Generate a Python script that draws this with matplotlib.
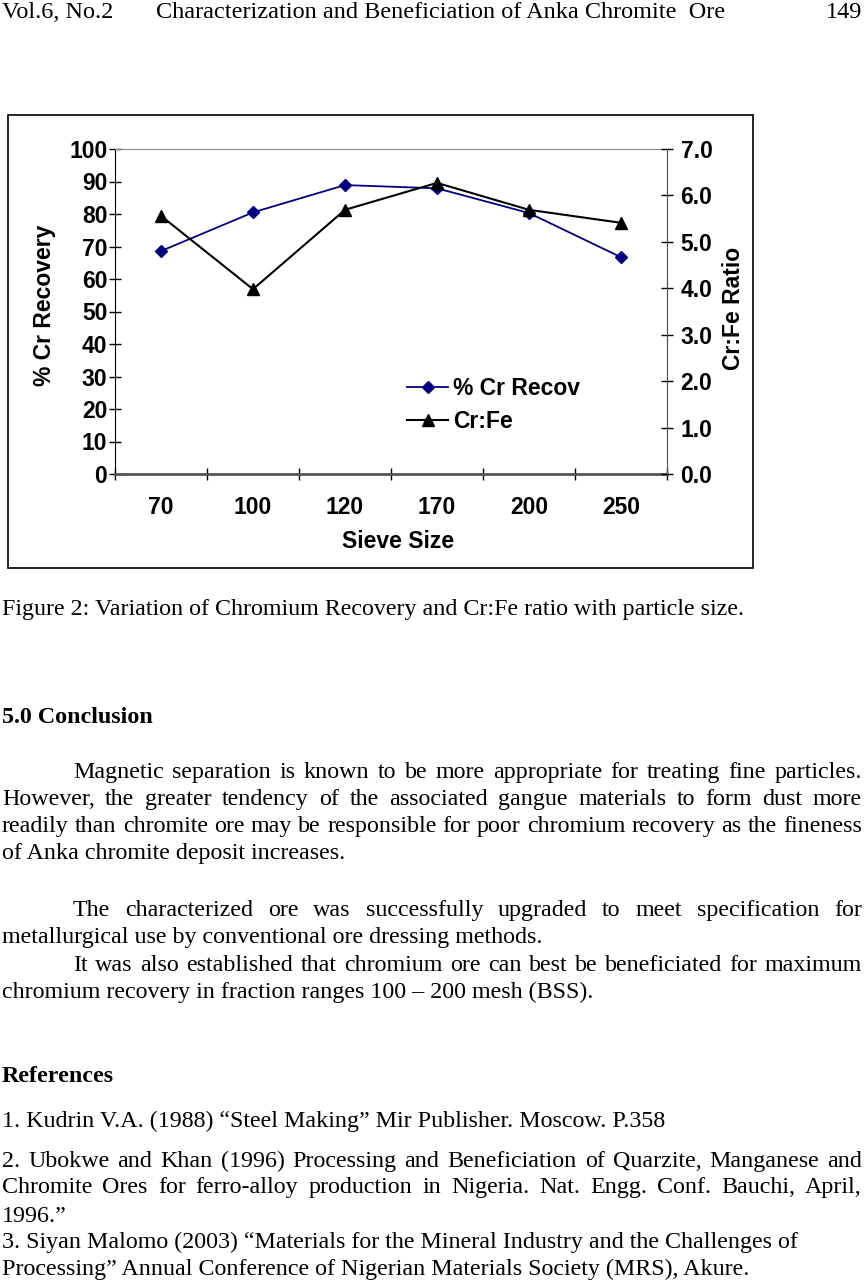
import matplotlib
matplotlib.use('Agg')
import matplotlib.pyplot as plt
from matplotlib.patches import Rectangle

W, H = 866, 1284

# chart data
sieve = ['70', '100', '120', '170', '200', '250']
cr_recovery = [68.6, 80.5, 88.9, 87.9, 80.3, 66.7]
cr_fe = [5.56, 3.98, 5.69, 6.27, 5.69, 5.41]
left_ticks = list(range(0, 101, 10))
right_ticks = [0, 1, 2, 3, 4, 5, 6, 7]

# page text
header_left = 'Vol.6, No.2'
header_title = 'Characterization and Beneficiation of Anka Chromite  Ore'
header_page = '149'
caption = 'Figure 2: Variation of Chromium Recovery and Cr:Fe ratio with particle size.'
para1 = ['Magnetic separation is known to be more appropriate for treating fine particles.',
         'However, the greater tendency of the associated gangue materials to form dust more',
         'readily than chromite ore may be responsible for poor chromium recovery as the fineness',
         'of Anka chromite deposit increases.']
para2 = ['The characterized ore was successfully upgraded to meet specification for',
         'metallurgical use by conventional ore dressing methods.',
         'It was also established that chromium ore can best be beneficiated for maximum',
         'chromium recovery in fraction ranges 100 \u2013 200 mesh (BSS).']
refs = ['1. Kudrin V.A. (1988) \u201cSteel Making\u201d Mir Publisher. Moscow. P.358',
        '2. Ubokwe and Khan (1996) Processing and Beneficiation of Quarzite, Manganese and',
        'Chromite Ores for ferro-alloy production in Nigeria. Nat. Engg. Conf. Bauchi, April,',
        '1996.\u201d',
        '3. Siyan Malomo (2003) \u201cMaterials for the Mineral Industry and the Challenges of',
        'Processing\u201d Annual Conference of Nigerian Materials Society (MRS), Akure.']


def fx(x):
    return x / W


def fy(y):
    return 1 - y / H


fig = plt.figure(figsize=(W / 100, H / 100), dpi=100)
fig.patch.set_facecolor('white')

cfont = dict(family='Liberation Sans', fontweight='bold', fontsize=16.5)

# frame round the chart
fig.patches.append(Rectangle((fx(8), fy(568)), fx(753) - fx(8), fy(115) - fy(568),
                             transform=fig.transFigure, fill=False, edgecolor='black', lw=1.2))

ax = fig.add_axes([fx(115), fy(474), fx(667) - fx(115), fy(149) - fy(474)])
xs = list(range(len(sieve)))
l1, = ax.plot(xs, cr_recovery, color='#000080', marker='D', ms=6.5, lw=1.3, label='% Cr Recov')
ax.set_xlim(-0.5, len(sieve) - 0.5)
ax.set_ylim(0, 100)
ax.set_yticks(left_ticks)
ax.set_yticklabels([str(v) for v in left_ticks], **cfont)
ax.set_xticks([i - 0.5 for i in range(len(sieve) + 1)])
ax.set_xticklabels([])
ax.set_xticks(xs, minor=True)
ax.set_xticklabels(sieve, minor=True, **cfont)
ax.tick_params(axis='y', direction='inout', length=8.6, width=1, pad=1.2)
ax.tick_params(axis='x', which='major', direction='inout', length=9, width=1)
ax.tick_params(axis='x', which='minor', length=0, pad=15.5)
ax.spines['left'].set_color('black')
ax.spines['bottom'].set_color('#555555')
ax.spines['bottom'].set_linewidth(2)
ax.spines['top'].set_color('#888888')
ax.spines['right'].set_color('#555555')

ax2 = ax.twinx()
l2, = ax2.plot(xs, cr_fe, color='black', marker='^', ms=8, lw=1.5, label='Cr:Fe')
ax2.set_ylim(0, 7)
ax2.set_yticks(right_ticks)
ax2.set_yticklabels(['%.1f' % v for v in right_ticks], **cfont)
ax2.tick_params(axis='y', direction='inout', length=8.6, width=1, pad=5.5)
for s in ['left', 'top', 'bottom']:
    ax2.spines[s].set_visible(False)
ax2.spines['right'].set_color('#555555')

ax2.legend(handles=[l1, l2], loc='upper left', bbox_to_anchor=(fx(407), fy(377)),
           bbox_transform=fig.transFigure, frameon=False, borderpad=0, borderaxespad=0,
           handlelength=1.8, handletextpad=0.2, labelspacing=0.45,
           prop=dict(family='Liberation Sans', weight='bold', size=16.5))

fig.text(fx(45), fy(305), '% Cr Recovery', rotation=90, ha='center', va='center', **cfont)
fig.text(fx(733), fy(308), 'Cr:Fe Ratio', rotation=90, ha='center', va='center', **cfont)
fig.text(fx(398), fy(542), 'Sieve Size', ha='center', va='center', **cfont)

# page text
body = dict(family='Liberation Serif', fontsize=17.3)
bold = dict(family='Liberation Serif', fontsize=17.3, fontweight='bold')
head = dict(family='Liberation Serif', fontsize=17.5)

renderer = fig.canvas.get_renderer()


def word_width(w, style):
    t = fig.text(0, 0, w, **style)
    wd = t.get_window_extent(renderer).width
    t.remove()
    return wd


def put(x, y, s, style, ha='left'):
    fig.text(fx(x), fy(y), s, ha=ha, va='baseline', **style)


def justify(x0, x1, y, line, style):
    words = line.split()
    widths = [word_width(w, style) for w in words]
    gap = (x1 - x0 - sum(widths)) / (len(words) - 1)
    x = x0
    for w, wd in zip(words, widths):
        put(x, y, w, style)
        x += wd + gap


put(2, 18, header_left, head)
put(441, 18, header_title, head, ha='center')
put(862, 18, header_page, head, ha='right')

put(2, 615, caption, body)
put(2, 723, '5.0 Conclusion', bold)

justify(73, 862, 778, para1[0], body)
justify(2, 862, 805, para1[1], body)
justify(2, 862, 832, para1[2], body)
put(2, 859, para1[3], body)

justify(73, 862, 916, para2[0], body)
put(2, 943, para2[1], body)
justify(73, 862, 971, para2[2], body)
put(2, 998, para2[3], body)

put(2, 1082, 'References', bold)
put(2, 1127, refs[0], body)
justify(2, 862, 1167, refs[1], body)
justify(2, 862, 1193, refs[2], body)
put(2, 1222, refs[3], body)
put(2, 1248, refs[4], body)
put(2, 1275, refs[5], body)

fig.savefig('out.png', dpi=100, facecolor='white')
